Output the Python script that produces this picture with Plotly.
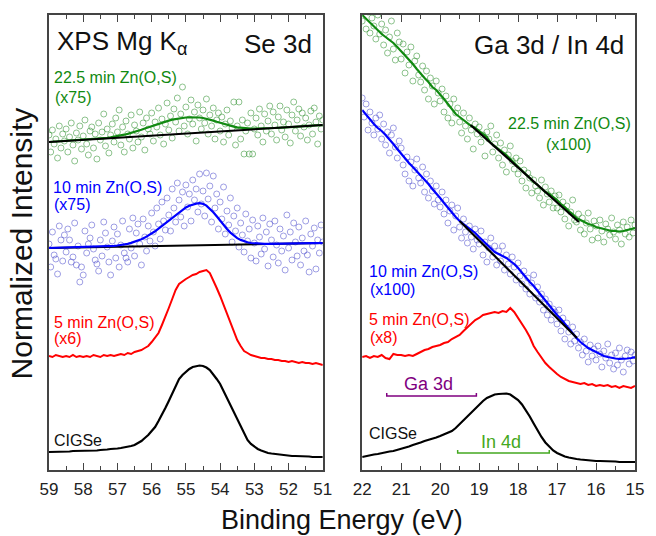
import plotly.graph_objects as go

FONT = "Liberation Sans, Arial, sans-serif"

# ---------------- Left panel: Se 3d ----------------
E_left_line = [round(59.0 - 0.1 * i, 2) for i in range(81)]
E_left_pts = [round(59.0 - 0.05 * i, 2) for i in range(161)]

se_cigse = [18, 18, 18, 18, 18.5, 18.5, 18.5, 19, 19, 19,
            19, 19, 19.5, 19.5, 19.5, 20, 20, 20.5, 21, 21,
            21.5, 22, 22.5, 23, 24, 25, 27, 29, 32, 35,
            39, 43, 49, 55, 62, 69, 76, 84, 91, 95,
            98, 101, 103, 104, 104.5, 104, 102.5, 100, 96, 91,
            86, 79, 72, 65, 57, 50, 43, 36, 30, 26,
            23, 21, 19.5, 18, 17, 16.5, 16, 15.5, 15, 14.5,
            14.5, 14, 14, 14, 13.5, 13.5, 13.5, 13, 13, 13,
            13]

se_5min = [114, 113, 115, 114, 113, 114, 113, 115, 113, 114,
           113, 114, 113, 115, 114, 113, 115, 114, 115, 114,
           115, 116, 115, 117, 116, 118, 119, 120, 122, 124,
           128, 132, 137, 145, 153, 162, 171, 180, 186, 189,
           191, 193, 195, 196, 198, 199, 200, 197, 190, 182,
           174, 165, 156, 147, 138, 130, 124, 119, 117, 115,
           114, 113, 112, 112, 111, 111, 110, 110, 109, 109,
           108, 109, 108, 107, 108, 107, 107, 106, 107, 106,
           105]

se_10min_fit = [222.0, 222.1, 222.1, 222.2, 222.3, 222.3, 222.4, 222.4, 222.5, 222.6,
                222.6, 222.7, 222.8, 222.8, 223.0, 223.2, 223.3, 223.5, 223.8, 224.1,
                224.5, 224.9, 225.5, 226.2, 227.1, 228.1, 229.3, 230.8, 232.4, 234.3,
                236.4, 238.7, 241.3, 244.0, 246.8, 249.7, 252.6, 255.3, 258.0, 260.4,
                262.5, 264.3, 265.6, 266.4, 266.8, 266.2, 264.4, 261.5, 257.8, 253.7,
                249.2, 245.0, 241.0, 237.4, 234.4, 231.9, 230.1, 228.7, 227.7, 227.0,
                226.6, 226.3, 226.2, 226.1, 226.1, 226.1, 226.1, 226.2, 226.3, 226.3,
                226.4, 226.4, 226.5, 226.6, 226.6, 226.7, 226.8, 226.8, 226.9, 226.9,
                227.0]

se_22min_fit = [328.0, 328.2, 328.4, 328.6, 328.9, 329.1, 329.3, 329.5, 329.7, 329.9,
                330.1, 330.3, 330.6, 330.8, 331.1, 331.4, 331.7, 332.1, 332.6, 333.1,
                333.8, 334.5, 335.3, 336.1, 337.0, 338.0, 339.1, 340.2, 341.5, 342.7,
                343.9, 345.1, 346.3, 347.4, 348.5, 349.4, 350.3, 351.0, 351.6, 352.1,
                352.5, 352.7, 352.8, 352.7, 352.5, 352.0, 351.3, 350.4, 349.4, 348.3,
                347.2, 346.1, 345.1, 344.2, 343.4, 342.7, 342.2, 341.8, 341.5, 341.3,
                341.3, 341.3, 341.4, 341.5, 341.6, 341.8, 342.0, 342.2, 342.5, 342.7,
                342.9, 343.1, 343.3, 343.5, 343.7, 343.9, 344.2, 344.4, 344.6, 344.8,
                345.0]

se_bg_E = [59.0, 51.0]
se_10min_bg = [222.0, 227.0]
se_22min_bg = [328.0, 345.0]

se_10min_pts = [226, 203, 238, 215, 211, 196, 244, 230, 209, 235,
                218, 241, 230, 208, 213, 247, 205, 224, 188, 203,
                195, 239, 217, 226, 232, 245, 221, 210, 206, 199,
                230, 214, 248, 237, 223, 208, 195, 229, 243, 212,
                236, 203, 225, 249, 217, 212, 208, 241, 222, 252,
                214, 237, 246, 226, 205, 251, 233, 219, 244, 229,
                257, 238, 224, 262, 246, 231, 268, 249, 240, 272,
                255, 239, 281, 262, 248, 287, 270, 253, 278, 244,
                285, 263, 276, 249, 290, 270, 281, 258, 296, 266,
                279, 254, 297, 271, 284, 248, 294, 262, 276, 241,
                268, 251, 283, 236, 259, 245, 272, 228, 254, 239,
                262, 223, 247, 235, 218, 256, 229, 241, 212, 250,
                227, 209, 244, 233, 216, 252, 221, 238, 204, 246,
                230, 213, 249, 225, 207, 241, 219, 234, 200, 255,
                222, 238, 210, 247, 228, 214, 243, 205, 232, 219,
                249, 215, 198, 236, 224, 242, 201, 230, 217, 245,
                228]

se_22min_pts = [335, 318, 340, 326, 331, 312, 344, 322, 336, 329,
                341, 318, 333, 347, 325, 309, 337, 330, 344, 321,
                334, 350, 326, 315, 339, 343, 322, 336, 311, 347,
                330, 338, 356, 324, 341, 317, 335, 346, 328, 352,
                338, 360, 325, 343, 318, 349, 336, 331, 355, 322,
                345, 339, 328, 358, 333, 347, 320, 352, 341, 336,
                357, 329, 348, 343, 362, 335, 351, 326, 346, 367,
                340, 354, 332, 361, 348, 372, 339, 356, 383, 344,
                363, 336, 351, 370, 346, 358, 329, 365, 352, 341,
                360, 347, 371, 336, 355, 344, 362, 331, 350, 357,
                339, 353, 328, 346, 360, 335, 349, 342, 368, 325,
                344, 368, 331, 350, 316, 339, 347, 316, 357, 316,
                341, 352, 335, 361, 344, 328, 356, 339, 349, 364,
                336, 358, 345, 330, 353, 364, 340, 348, 333, 360,
                346, 327, 355, 368, 339, 350, 361, 334, 357, 343,
                352, 330, 345, 359, 336, 362, 348, 326, 354, 341,
                350]

# ---------------- Right panel: Ga 3d / In 4d ----------------
E_right_line = [round(22.0 - 0.1 * i, 2) for i in range(71)]
E_right_pts = [round(22.0 - 0.05 * i, 2) for i in range(141)]

ga_cigse = [13, 14, 14.5, 15.5, 16, 17, 17.5, 18.5, 19, 20,
            21, 22, 23.5, 25, 26, 27.5, 29, 30, 31.5, 32.5,
            34, 35.5, 37, 39, 42, 46, 50, 54, 58, 62,
            66, 69, 72, 74, 75.5, 76, 76.5, 76.5, 75.5, 73,
            70, 65.5, 60, 53.5, 46.5, 39.5, 33, 27.5, 23, 19.5,
            17, 15, 13.5, 12.5, 11.5, 11, 10.5, 10, 10, 9.5,
            9, 9, 9, 8.5, 8.5, 8.5, 8, 8, 8, 8,
            8]

ga_5min = [113, 114, 112, 114, 113, 115, 112, 111, 116, 115,
           115, 114, 115, 114, 116, 118, 120, 121, 123, 124,
           125, 127, 128, 131, 133, 135, 139, 143, 147, 150,
           152, 155, 156, 157, 158, 157, 159, 158, 162, 158,
           152, 147, 140, 133, 124, 118, 112, 107, 103, 99,
           96, 93, 91, 89, 88, 87, 86, 87, 85, 86,
           84, 85, 84, 85, 83, 84, 82, 84, 83, 82,
           84]

ga_10min = [360, 355, 350, 346, 342, 339, 335, 331, 326, 321,
            316, 312, 307, 303, 299, 295, 291, 286, 281, 277,
            272, 267, 262, 258, 253, 249, 246, 243, 240, 237,
            233, 229, 225, 221, 218, 216, 214, 212, 209, 206,
            202, 197, 193, 188, 184, 179, 174, 169, 164, 160,
            155, 151, 146, 141, 136, 132, 128, 125, 122, 120,
            118, 116, 114, 113, 112, 111.5, 111, 111, 111.5, 112,
            113]

ga_22min = [455, 451, 447, 443, 440, 436, 433, 430, 427, 423,
            419, 415, 410, 406, 401, 396, 392, 388, 383, 380,
            376, 371, 366, 361, 356, 353, 350, 347, 344, 342,
            339, 336, 333, 327, 324, 321, 318, 315, 311, 307,
            303, 299, 296, 292, 288, 285, 281, 278, 276, 273,
            270, 266, 263, 259, 256, 252, 250, 248, 246, 245,
            243, 242, 241, 240, 239, 239, 238.5, 239, 240, 241,
            242]

ga_10min_bg_E = [19.5, 16.49]
ga_10min_bg = [249, 132]
ga_22min_bg_E = [19.22, 16.44]
ga_22min_bg = [345, 248]

ga_10min_pts = [372, 353, 366, 340, 358, 347, 335, 352, 341, 355,
                331, 346, 325, 338, 317, 335, 342, 323, 312, 329,
                322, 305, 296, 313, 289, 308, 284, 300, 311, 292,
                287, 303, 278, 296, 272, 289, 279, 266, 284, 270,
                263, 278, 256, 270, 247, 259, 265, 240, 254, 262,
                243, 232, 251, 238, 227, 244, 233, 221, 241, 230,
                226, 239, 215, 228, 208, 222, 232, 213, 224, 205,
                219, 209, 224, 200, 215, 206, 196, 213, 203, 190,
                207, 194, 186, 199, 181, 192, 176, 187, 195, 172,
                183, 168, 176, 160, 171, 155, 166, 150, 161, 158,
                146, 160, 139, 152, 131, 147, 138, 126, 143, 129,
                136, 122, 128, 115, 131, 119, 108, 125, 114, 121,
                110, 124, 116, 103, 119, 112, 126, 107, 115, 101,
                117, 105, 122, 110, 98, 114, 120, 106, 118, 109,
                115]

ga_22min_pts = [449, 462, 441, 458, 437, 452, 444, 431, 455, 436,
                446, 425, 440, 417, 433, 449, 421, 410, 437, 428,
                411, 426, 397, 418, 405, 423, 389, 409, 414, 395,
                388, 404, 380, 399, 371, 392, 384, 366, 389, 377,
                369, 381, 358, 374, 352, 366, 347, 371, 357, 362,
                348, 337, 357, 344, 331, 352, 340, 321, 346, 336,
                343, 328, 335, 314, 338, 331, 344, 318, 326, 335,
                312, 327, 305, 320, 298, 315, 324, 309, 301, 312,
                296, 309, 289, 300, 282, 297, 292, 277, 290, 284,
                279, 272, 290, 265, 283, 276, 268, 279, 262, 274,
                262, 275, 258, 268, 251, 264, 244, 258, 270, 250,
                248, 256, 240, 252, 236, 247, 257, 241, 230, 249,
                244, 232, 250, 239, 228, 246, 241, 235, 252, 238,
                231, 245, 240, 226, 248, 236, 243, 233, 250, 237,
                245]

ga3d_range = [21.37, 19.07]
ga3d_level = 74
in4d_range = [19.55, 17.2]
in4d_level = 17

left_ticks = [59, 58, 57, 56, 55, 54, 53, 52, 51]
right_ticks = [22, 21, 20, 19, 18, 17, 16, 15]

# ---------------- styles ----------------
C_GREEN = "#118a11"
C_BLUE = "#0000ff"
C_RED = "#ff0000"
C_BLACK = "#000000"
C_GREEN_PT = "rgba(50,145,50,0.55)"
C_BLUE_PT = "rgba(80,80,205,0.55)"
AX = "#444444"

fig = go.Figure()


def line(x, y, color, xa, ya, width=2.2):
    fig.add_trace(go.Scatter(x=x, y=y, mode="lines", line=dict(color=color, width=width),
                             xaxis=xa, yaxis=ya, showlegend=False, hoverinfo="skip"))


def pts(x, y, color, xa, ya):
    fig.add_trace(go.Scatter(x=x, y=y, mode="markers",
                             marker=dict(symbol="circle-open", size=6, color=color,
                                         line=dict(width=1, color=color)),
                             xaxis=xa, yaxis=ya, showlegend=False, hoverinfo="skip"))


# left panel
pts(E_left_pts, se_22min_pts, C_GREEN_PT, "x", "y")
pts(E_left_pts, se_10min_pts, C_BLUE_PT, "x", "y")
line(E_left_line, se_22min_fit, C_GREEN, "x", "y")
line(se_bg_E, se_22min_bg, C_BLACK, "x", "y", 2)
line(se_bg_E, se_10min_bg, C_BLACK, "x", "y", 2)
line(E_left_line, se_10min_fit, C_BLUE, "x", "y")
line(E_left_line, se_5min, C_RED, "x", "y", 2)
line(E_left_line, se_cigse, C_BLACK, "x", "y")

# right panel
pts(E_right_pts, ga_22min_pts, C_GREEN_PT, "x2", "y2")
pts(E_right_pts, ga_10min_pts, C_BLUE_PT, "x2", "y2")
line(E_right_line, ga_22min, C_GREEN, "x2", "y2")
line(ga_22min_bg_E, ga_22min_bg, C_BLACK, "x2", "y2")
line(E_right_line, ga_10min, C_BLUE, "x2", "y2")
line(ga_10min_bg_E, ga_10min_bg, C_BLACK, "x2", "y2")
line(E_right_line, ga_5min, C_RED, "x2", "y2", 2)
line(E_right_line, ga_cigse, C_BLACK, "x2", "y2")

# brackets
cap = 3
line([ga3d_range[0], ga3d_range[0], ga3d_range[1], ga3d_range[1]],
     [ga3d_level + cap, ga3d_level, ga3d_level, ga3d_level + cap], "#800080", "x2", "y2", 1.5)
line([in4d_range[0], in4d_range[0], in4d_range[1], in4d_range[1]],
     [in4d_level + cap, in4d_level, in4d_level, in4d_level + cap], "#44a820", "x2", "y2", 1.5)

xcommon = dict(showline=True, linecolor=AX, linewidth=1.5, mirror="ticks",
               ticks="inside", ticklen=7, tickwidth=1.3, tickcolor=AX,
               tickfont=dict(family=FONT, size=17, color="#222"),
               showgrid=False, zeroline=False, ticklabelstandoff=3,
               minor=dict(ticks="inside", ticklen=4, tickwidth=1.2, tickcolor=AX, dtick=0.5))
ycommon = dict(showline=True, linecolor=AX, linewidth=1.5, mirror=True,
               ticks="", showticklabels=False, showgrid=False, zeroline=False,
               range=[0, 455])

dom_split = (327 - 49) / 595
dom_right = (367 - 49) / 595

fig.update_layout(
    width=656, height=536,
    margin=dict(l=49, r=12, t=15, b=66),
    paper_bgcolor="white", plot_bgcolor="white",
    font=dict(family=FONT),
    xaxis=dict(domain=[0, dom_split], range=[59, 51], tickvals=left_ticks,
               ticktext=[str(t) for t in left_ticks], anchor="y", **xcommon),
    xaxis2=dict(domain=[dom_right, 1], range=[22, 15], tickvals=right_ticks,
                ticktext=[str(t) for t in right_ticks], anchor="y2", **xcommon),
    yaxis=dict(domain=[0, 1], anchor="x", **ycommon),
    yaxis2=dict(domain=[0, 1], anchor="x2", **ycommon),
)


def ann(text, x, y, xref, yref, color, size, xanchor="left", yanchor="middle", **kw):
    fig.add_annotation(text=text, x=x, y=y, xref=xref, yref=yref, showarrow=False,
                       xanchor=xanchor, yanchor=yanchor,
                       font=dict(family=FONT, size=size, color=color), **kw)


# left panel labels
ann("XPS Mg K<sub>α</sub>", 58.83, 428, "x", "y", "#111", 26, yanchor="middle")
ann("Se 3d", 51.26, 426, "x", "y", "#111", 26, xanchor="right")
ann("22.5 min Zn(O,S)", 58.91, 393, "x", "y", C_GREEN, 16)
ann("(x75)", 58.88, 373, "x", "y", C_GREEN, 16)
ann("10 min Zn(O,S)", 58.94, 283, "x", "y", C_BLUE, 16)
ann("(x75)", 58.9, 266, "x", "y", C_BLUE, 16)
ann("5 min Zn(O,S)", 58.91, 148, "x", "y", C_RED, 16)
ann("(x6)", 58.9, 132, "x", "y", C_RED, 16)
ann("CIGSe", 58.91, 30, "x", "y", "#111", 16)

# right panel labels
ann("Ga 3d / In 4d", 15.23, 425, "x2", "y2", "#111", 26, xanchor="right")
ann("22.5 min Zn(O,S)", 18.31, 347, "x2", "y2", C_GREEN, 16)
ann("(x100)", 17.325, 326, "x2", "y2", C_GREEN, 16)
ann("10 min Zn(O,S)", 21.87, 199, "x2", "y2", C_BLUE, 16)
ann("(x100)", 21.85, 181, "x2", "y2", C_BLUE, 16)
ann("5 min Zn(O,S)", 21.87, 151, "x2", "y2", C_RED, 16)
ann("(x8)", 21.85, 133, "x2", "y2", C_RED, 16)
ann("CIGSe", 21.87, 37, "x2", "y2", "#111", 16)
ann("Ga 3d", 20.31, 86, "x2", "y2", "#800080", 18, xanchor="center")
ann("In 4d", 18.44, 28, "x2", "y2", "#44a820", 18, xanchor="center")

# axis titles
ann("Binding Energy (eV)", (346 - 49) / 595, -50 / 455, "paper", "paper", "#111", 27,
    xanchor="center")
ann("Normalized Intensity", (21 - 49) / 595, (470 - 243) / 455, "paper", "paper", "#111", 30,
    xanchor="center", textangle=-90)

fig.write_html("out.html")
